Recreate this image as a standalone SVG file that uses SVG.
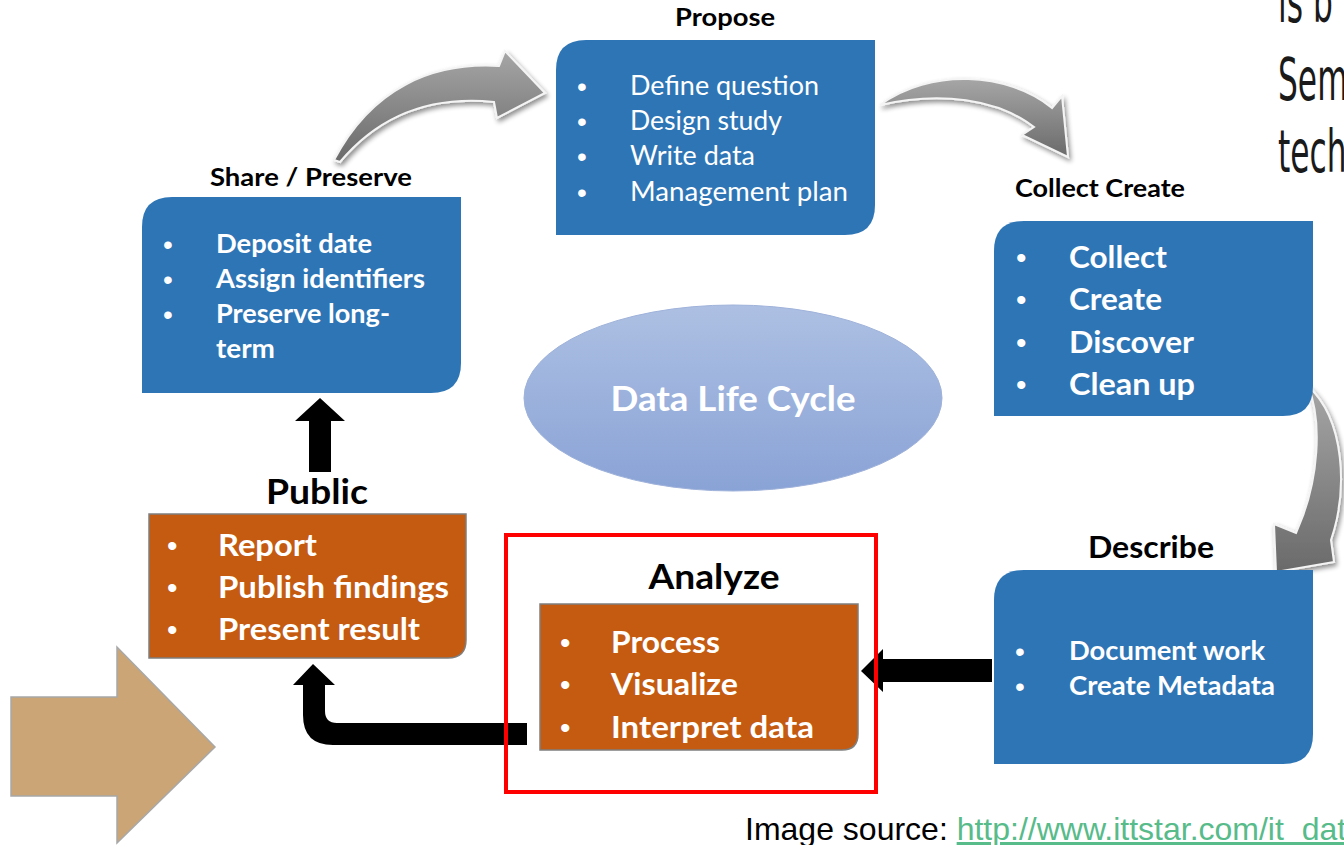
<svg xmlns="http://www.w3.org/2000/svg" width="1344" height="845" viewBox="0 0 1344 845">
<style>
.title{font-family:Lato,"Open Sans","Liberation Sans",sans-serif;font-weight:bold;fill:#000;text-anchor:middle;}
.w{fill:#fff;font-family:Lato,"Open Sans","Liberation Sans",sans-serif;}
.b{font-weight:bold;}
.bul{font-family:"Liberation Sans",Arial,sans-serif;font-weight:normal;}
.blue{fill:#2e75b6;}
.orange{fill:#c55a11;stroke:#7f7f7f;stroke-width:1.5;}
.garrow{fill:url(#gg);stroke:#f4f4f4;stroke-width:2;filter:url(#sh);}
.blk{fill:#000;}
</style>
<defs>
<linearGradient id="gg" x1="0" y1="0" x2="0" y2="1">
<stop offset="0" stop-color="#a6a6a6"/>
<stop offset="1" stop-color="#6a6a6a"/>
</linearGradient>
<linearGradient id="eg" x1="0" y1="0" x2="0" y2="1">
<stop offset="0" stop-color="#adc0e3"/>
<stop offset="1" stop-color="#8aa3d6"/>
</linearGradient>
<filter id="sh" x="-20%" y="-20%" width="140%" height="140%">
<feGaussianBlur in="SourceAlpha" stdDeviation="2.5"/>
<feOffset dx="2" dy="3" result="o"/>
<feComponentTransfer><feFuncA type="linear" slope="0.45"/></feComponentTransfer>
<feMerge><feMergeNode/><feMergeNode in="SourceGraphic"/></feMerge>
</filter>
</defs>
<rect width="1344" height="845" fill="#fff"/>

<g id="side-text" font-family="'DejaVu Sans Condensed','DejaVu Sans',sans-serif" font-size="58" fill="#1a1a1a" font-weight="200">
<text transform="translate(1278,22) scale(0.6,1)">is b</text>
<text transform="translate(1278,100) scale(0.6,1)">Sem</text>
<text transform="translate(1278,172) scale(0.6,1)">tech</text>
</g>

<g id="connectors">
<path class="garrow" d="M334,160 C372,88 432,62 499,66 L505,51 L545,93 L497,118 L494,102 C434,96 382,112 340,162 Z"/>
<path class="garrow" d="M880,105 C930,68 1008,72 1052,108 L1062,96 L1068,157 L1022,135 L1034,127 C998,99 940,91 880,105 Z"/>
<path class="garrow" d="M1308,386 C1345,420 1348,490 1331,540 L1334,562 L1276,572 L1274,524 L1296,533 C1320,480 1322,420 1308,386 Z"/>
<path class="blk" d="M309,472 L309,421 L295,421 L320,398 L345,421 L331,421 L331,472 Z"/>
<path class="blk" d="M992,659 L883,659 L883,649 L861,671 L883,692 L883,682 L992,682 Z"/>
<path class="blk" d="M527,723 L337,723 Q325,723 325,711 L325,685 L335,685 L313,664 L293,685 L303,685 L303,715 Q303,745 333,745 L527,745 Z"/>
<path d="M11,697 L117,697 L117,647 L215,747 L117,843 L117,796 L11,796 Z" fill="#cba576" stroke="#a8a8a8" stroke-width="1.5"/>
</g>

<g id="share-preserve">
<text class="title" x="311" y="186" font-size="25" textLength="202" lengthAdjust="spacingAndGlyphs">Share / Preserve</text>
<path class="blue" d="M172,197 L461,197 L461,363 Q461,393 431,393 L142,393 L142,227 Q142,197 172,197 Z"/>
<g class="w b" font-size="27">
<text class="bul" x="163" y="254" font-size="28">•</text><text x="216" y="253" textLength="156" lengthAdjust="spacingAndGlyphs">Deposit date</text>
<text class="bul" x="163" y="289" font-size="28">•</text><text x="216" y="288" textLength="209" lengthAdjust="spacingAndGlyphs">Assign identifiers</text>
<text class="bul" x="163" y="324" font-size="28">•</text><text x="216" y="323" textLength="174" lengthAdjust="spacingAndGlyphs">Preserve long-</text>
<text x="216" y="358" textLength="59" lengthAdjust="spacingAndGlyphs">term</text>
</g>
</g>

<g id="propose">
<text class="title" x="725" y="26" font-size="25" textLength="100" lengthAdjust="spacingAndGlyphs">Propose</text>
<path class="blue" d="M586,40 L875,40 L875,205 Q875,235 845,235 L556,235 L556,70 Q556,40 586,40 Z"/>
<g class="w" font-size="27">
<text class="bul" x="577" y="96" font-size="28">•</text><text x="630" y="95" textLength="189" lengthAdjust="spacingAndGlyphs">Define question</text>
<text class="bul" x="577" y="131" font-size="28">•</text><text x="630" y="130" textLength="152" lengthAdjust="spacingAndGlyphs">Design study</text>
<text class="bul" x="577" y="166" font-size="28">•</text><text x="630" y="165" textLength="125" lengthAdjust="spacingAndGlyphs">Write data</text>
<text class="bul" x="577" y="202" font-size="28">•</text><text x="630" y="201" textLength="218" lengthAdjust="spacingAndGlyphs">Management plan</text>
</g>
</g>

<g id="collect-create">
<text class="title" x="1100" y="197" font-size="25" textLength="170" lengthAdjust="spacingAndGlyphs">Collect Create</text>
<path class="blue" d="M1024,221 L1313,221 L1313,386 Q1313,416 1283,416 L994,416 L994,251 Q994,221 1024,221 Z"/>
<g class="w b" font-size="31">
<text class="bul" x="1016" y="268" font-size="30">•</text><text x="1069" y="268" textLength="98" lengthAdjust="spacingAndGlyphs">Collect</text>
<text class="bul" x="1016" y="310" font-size="30">•</text><text x="1069" y="310" textLength="93" lengthAdjust="spacingAndGlyphs">Create</text>
<text class="bul" x="1016" y="353" font-size="30">•</text><text x="1069" y="353" textLength="125" lengthAdjust="spacingAndGlyphs">Discover</text>
<text class="bul" x="1016" y="395" font-size="30">•</text><text x="1069" y="395" textLength="126" lengthAdjust="spacingAndGlyphs">Clean up</text>
</g>
</g>

<g id="describe">
<text class="title" x="1151" y="558" font-size="31" textLength="126" lengthAdjust="spacingAndGlyphs">Describe</text>
<path class="blue" d="M1024,570 L1313,570 L1313,734 Q1313,764 1283,764 L994,764 L994,600 Q994,570 1024,570 Z"/>
<g class="w b" font-size="27">
<text class="bul" x="1015" y="661" font-size="28">•</text><text x="1069" y="660" textLength="196" lengthAdjust="spacingAndGlyphs">Document work</text>
<text class="bul" x="1015" y="696" font-size="28">•</text><text x="1069" y="695" textLength="206" lengthAdjust="spacingAndGlyphs">Create Metadata</text>
</g>
</g>

<g id="data-life-cycle">
<ellipse cx="733" cy="398" rx="209" ry="93" fill="url(#eg)" stroke="#9fb2da" stroke-width="1"/>
<text class="w b" x="733" y="411" font-size="35" text-anchor="middle" textLength="245" lengthAdjust="spacingAndGlyphs">Data Life Cycle</text>
</g>

<g id="public">
<text class="title" x="317" y="504" font-size="35" textLength="102" lengthAdjust="spacingAndGlyphs">Public</text>
<path class="orange" d="M149,514 L466,514 L466,640 Q466,658 448,658 L149,658 Z"/>
<g class="w b" font-size="31">
<text class="bul" x="167" y="556" font-size="30">•</text><text x="218" y="556" textLength="99" lengthAdjust="spacingAndGlyphs">Report</text>
<text class="bul" x="167" y="598" font-size="30">•</text><text x="218" y="598" textLength="231" lengthAdjust="spacingAndGlyphs">Publish findings</text>
<text class="bul" x="167" y="640" font-size="30">•</text><text x="218" y="640" textLength="202" lengthAdjust="spacingAndGlyphs">Present result</text>
</g>
</g>

<g id="analyze">
<rect x="506" y="535" width="370" height="257" fill="none" stroke="#ff0000" stroke-width="4"/>
<text class="title" x="714" y="589" font-size="35" textLength="131" lengthAdjust="spacingAndGlyphs">Analyze</text>
<path class="orange" d="M540,604 L858,604 L858,734 Q858,750 842,750 L540,750 Z"/>
<g class="w b" font-size="31">
<text class="bul" x="560" y="653" font-size="30">•</text><text x="611" y="653" textLength="109" lengthAdjust="spacingAndGlyphs">Process</text>
<text class="bul" x="560" y="695" font-size="30">•</text><text x="611" y="695" textLength="127" lengthAdjust="spacingAndGlyphs">Visualize</text>
<text class="bul" x="560" y="738" font-size="30">•</text><text x="611" y="738" textLength="203" lengthAdjust="spacingAndGlyphs">Interpret data</text>
</g>
</g>

<g id="source" font-family="'Liberation Sans',Arial,sans-serif" font-size="32">
<text x="745" y="840" fill="#000">Image source: <tspan fill="#57bb8a" text-decoration="underline">http://www.ittstar.com/it_dat</tspan></text>
</g>
</svg>
